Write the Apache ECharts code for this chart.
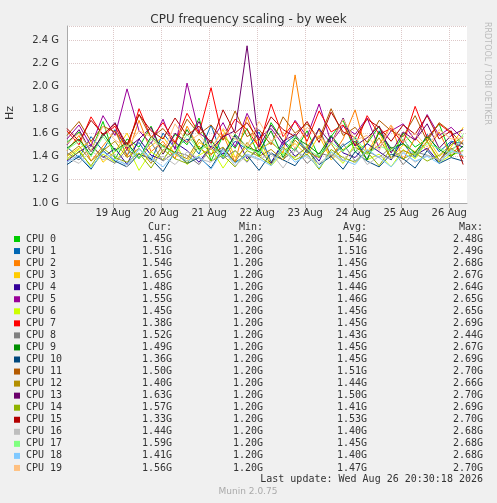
<!DOCTYPE html>
<html><head><meta charset="utf-8">
<script src="https://cdn.jsdelivr.net/npm/echarts@6/dist/echarts.min.js"></script>
<style>html,body{margin:0;padding:0;background:#F0F0F0}#c{width:497px;height:503px}</style>
</head><body><div id="c"></div>
<script>
const names=["CPU 0","CPU 1","CPU 2","CPU 3","CPU 4","CPU 5","CPU 6","CPU 7","CPU 8","CPU 9","CPU 10","CPU 11","CPU 12","CPU 13","CPU 14","CPU 15","CPU 16","CPU 17","CPU 18","CPU 19"];
const colors=["#00CC00","#0066B3","#FF8000","#FFCC00","#330099","#990099","#CCFF00","#FF0000","#808080","#008F00","#00487D","#B35A00","#B38F00","#6B006B","#8FB300","#B30000","#BEBEBE","#80FF80","#80C9FF","#FFC080"];
const cur=["1.45G","1.51G","1.54G","1.65G","1.48G","1.55G","1.45G","1.38G","1.52G","1.49G","1.36G","1.50G","1.40G","1.63G","1.57G","1.33G","1.44G","1.59G","1.41G","1.56G"];
const mins=Array(20).fill("1.20G");
const avg=["1.54G","1.51G","1.45G","1.45G","1.44G","1.46G","1.45G","1.45G","1.43G","1.45G","1.45G","1.51G","1.44G","1.50G","1.41G","1.53G","1.40G","1.45G","1.40G","1.47G"];
const maxs=["2.48G","2.49G","2.68G","2.67G","2.64G","2.65G","2.65G","2.69G","2.44G","2.67G","2.69G","2.70G","2.66G","2.70G","2.69G","2.70G","2.68G","2.68G","2.68G","2.70G"];
const dayLabels=["19 Aug","20 Aug","21 Aug","22 Aug","23 Aug","24 Aug","25 Aug","26 Aug"];
const dayPos=[0.96,1.96,2.96,3.96,4.96,5.96,6.96,7.96];
const step=0.25;
const values=[
[1.52,1.61,1.44,1.70,1.38,1.55,1.48,1.66,1.42,1.59,1.50,1.73,1.36,1.58,1.47,1.64,1.40,1.69,1.53,1.45,1.62,1.39,1.57,1.71,1.44,1.51,1.66,1.37,1.60,1.48,1.55,1.68,1.41,1.45],
[1.48,1.39,1.57,1.45,1.63,1.41,1.52,1.36,1.60,1.47,1.55,1.42,1.67,1.38,1.53,1.46,1.61,1.35,1.50,1.58,1.43,1.64,1.40,1.49,1.56,1.37,1.62,1.45,1.51,1.39,1.59,1.44,1.53,1.51],
[1.45,1.58,1.36,1.49,1.62,1.40,1.71,1.44,1.53,1.38,1.66,1.47,1.41,1.59,1.35,1.74,1.46,1.52,1.43,2.10,1.48,1.63,1.39,1.55,1.80,1.42,1.50,1.67,1.37,1.56,1.45,1.61,1.40,1.54],
[1.40,1.47,1.53,1.35,1.44,1.60,1.38,1.49,1.57,1.42,1.36,1.52,1.46,1.63,1.39,1.48,1.55,1.34,1.45,1.51,1.41,1.58,1.37,1.46,1.53,1.43,1.61,1.38,1.50,1.44,1.56,1.40,1.48,1.65],
[1.36,1.44,1.50,1.39,1.47,1.33,1.55,1.41,1.37,1.52,1.45,1.35,1.49,1.42,1.58,1.38,1.46,1.34,1.53,1.40,1.48,1.36,1.57,1.43,1.39,1.51,1.44,1.37,1.55,1.41,1.47,1.35,1.52,1.48],
[1.55,1.67,1.49,1.75,1.58,1.98,1.62,1.51,1.72,1.46,2.03,1.60,1.53,1.69,1.48,1.77,1.56,1.64,1.50,1.71,1.57,1.85,1.52,1.66,1.59,1.73,1.47,1.62,1.68,1.54,1.76,1.58,1.65,1.55],
[1.38,1.46,1.31,1.42,1.35,1.49,1.28,1.44,1.37,1.52,1.33,1.41,1.47,1.30,1.45,1.36,1.50,1.32,1.43,1.39,1.48,1.29,1.44,1.34,1.51,1.37,1.42,1.31,1.46,1.38,1.53,1.35,1.41,1.45],
[1.62,1.50,1.74,1.58,1.66,1.45,1.81,1.56,1.69,1.52,1.77,1.60,1.99,1.54,1.72,1.63,1.48,1.85,1.57,1.70,1.53,1.79,1.61,1.67,1.49,1.75,1.59,1.64,1.51,1.83,1.56,1.68,1.60,1.38],
[1.43,1.37,1.49,1.40,1.34,1.46,1.39,1.52,1.36,1.44,1.41,1.33,1.48,1.38,1.45,1.35,1.50,1.42,1.37,1.47,1.34,1.43,1.40,1.51,1.36,1.45,1.39,1.48,1.33,1.44,1.41,1.37,1.46,1.52],
[1.47,1.55,1.41,1.60,1.45,1.52,1.38,1.57,1.49,1.43,1.63,1.46,1.54,1.40,1.59,1.48,1.44,1.62,1.39,1.56,1.50,1.42,1.58,1.45,1.53,1.37,1.61,1.47,1.51,1.43,1.57,1.46,1.40,1.49],
[1.33,1.40,1.29,1.45,1.36,1.31,1.42,1.38,1.27,1.44,1.34,1.39,1.30,1.47,1.35,1.41,1.28,1.43,1.37,1.32,1.46,1.33,1.40,1.29,1.44,1.36,1.31,1.42,1.38,1.30,1.45,1.34,1.39,1.36],
[1.58,1.70,1.53,1.66,1.61,1.49,1.76,1.56,1.64,1.51,1.72,1.59,1.67,1.54,1.79,1.57,1.63,1.50,1.74,1.60,1.68,1.55,1.81,1.58,1.65,1.52,1.71,1.62,1.57,1.75,1.53,1.69,1.61,1.50],
[1.41,1.49,1.36,1.45,1.53,1.39,1.47,1.34,1.50,1.43,1.38,1.55,1.42,1.48,1.35,1.52,1.40,1.46,1.37,1.54,1.44,1.39,1.51,1.36,1.48,1.42,1.56,1.38,1.45,1.41,1.53,1.37,1.47,1.40],
[1.50,1.63,1.44,1.58,1.69,1.47,1.55,1.65,1.42,1.60,1.52,1.70,1.46,1.57,1.62,2.35,1.48,1.67,1.53,1.59,1.45,1.64,1.51,1.73,1.49,1.56,1.66,1.43,1.61,1.54,1.68,1.47,1.58,1.63],
[1.37,1.44,1.32,1.47,1.39,1.35,1.43,1.30,1.46,1.38,1.34,1.49,1.36,1.41,1.31,1.45,1.40,1.33,1.48,1.37,1.42,1.29,1.46,1.39,1.35,1.44,1.32,1.47,1.38,1.43,1.36,1.41,1.50,1.57],
[1.64,1.53,1.71,1.59,1.68,1.50,1.76,1.62,1.55,1.73,1.58,1.66,1.51,1.80,1.60,1.69,1.54,1.74,1.63,1.57,1.70,1.52,1.78,1.61,1.56,1.72,1.65,1.53,1.67,1.59,1.75,1.55,1.62,1.33],
[1.39,1.34,1.45,1.37,1.42,1.31,1.47,1.36,1.40,1.33,1.44,1.38,1.35,1.46,1.32,1.41,1.37,1.43,1.30,1.45,1.39,1.34,1.42,1.36,1.48,1.33,1.40,1.38,1.44,1.35,1.41,1.37,1.43,1.44],
[1.46,1.53,1.40,1.57,1.44,1.50,1.38,1.55,1.48,1.42,1.59,1.45,1.51,1.39,1.56,1.47,1.43,1.54,1.41,1.58,1.46,1.40,1.52,1.44,1.57,1.42,1.49,1.45,1.55,1.41,1.51,1.47,1.43,1.59],
[1.35,1.41,1.30,1.44,1.37,1.33,1.46,1.39,1.31,1.43,1.36,1.40,1.29,1.45,1.34,1.42,1.38,1.32,1.47,1.35,1.41,1.30,1.44,1.37,1.33,1.46,1.39,1.31,1.43,1.36,1.40,1.34,1.45,1.41],
[1.51,1.60,1.45,1.66,1.54,1.48,1.62,1.57,1.43,1.68,1.52,1.59,1.46,1.64,1.55,1.49,1.70,1.53,1.61,1.47,1.65,1.56,1.50,1.72,1.54,1.58,1.45,1.67,1.52,1.60,1.48,1.63,1.55,1.56]
];
const chart=echarts.init(document.getElementById('c'));
const series=values.map((v,k)=>({name:names[k],type:'line',showSymbol:false,animation:false,
  lineStyle:{width:1,color:colors[k]},itemStyle:{color:colors[k]},
  data:v.map((y,i)=>[i*step,y])}));
const g=[];
const FONT='10px "DejaVu Sans Mono"';
const rowY=k=>239+k*12.05;
[['Cur:',172],['Min:',263],['Avg:',367],['Max:',483]].forEach(([t,x])=>g.push({type:'text',x:x,y:rowY(-1),style:{text:t,fill:'#333',font:FONT,align:'right',verticalAlign:'middle'}}));
names.forEach((n,k)=>{
  const y=rowY(k);
  g.push({type:'rect',shape:{x:14,y:y-3,width:6,height:6},style:{fill:colors[k]}});
  g.push({type:'text',x:26,y:y,style:{text:n,fill:'#333',font:FONT,verticalAlign:'middle'}});
  [[cur,172],[mins,263],[avg,367],[maxs,483]].forEach(([a,x])=>g.push({type:'text',x:x,y:y,style:{text:a[k],fill:'#333',font:FONT,align:'right',verticalAlign:'middle'}}));
});
g.push({type:'text',x:483,y:479,style:{text:'Last update: Wed Aug 26 20:30:18 2026',fill:'#333',font:FONT,align:'right',verticalAlign:'middle'}});
g.push({type:'text',x:248,y:492,style:{text:'Munin 2.0.75',fill:'#aaa',font:'9px "DejaVu Sans"',align:'center',verticalAlign:'middle'}});
g.push({type:'text',x:487,y:22,rotation:-Math.PI/2,style:{text:'RRDTOOL / TOBI OETIKER',fill:'#bbb',font:'8px "DejaVu Sans"',verticalAlign:'middle'}});
g.push({type:'text',x:10,y:113,rotation:Math.PI/2,style:{text:'Hz',fill:'#333',font:'11px "DejaVu Sans"',align:'center',verticalAlign:'middle'}});
chart.setOption({
  backgroundColor:'#F0F0F0',animation:false,
  title:{text:'CPU frequency scaling - by week',left:'center',top:9,textStyle:{fontSize:12,fontWeight:'normal',color:'#333',fontFamily:'DejaVu Sans'}},
  grid:{left:67,right:30,top:26,height:177,show:true,backgroundColor:'#fff',borderWidth:0},
  xAxis:{type:'value',min:0,max:8.33,
    axisLine:{lineStyle:{color:'#aaa'}},
    axisTick:{customValues:dayPos,lineStyle:{color:'#aaa'}},
    axisLabel:{customValues:dayPos,formatter:v=>dayLabels[dayPos.indexOf(v)]||'',color:'#333',fontSize:10,fontFamily:'DejaVu Sans',margin:5},
    splitLine:{show:true,lineStyle:{color:'#ddc8c8',type:'dotted'}}},
  yAxis:{type:'value',min:1.0,max:2.52,interval:0.2,
    axisLine:{show:true,lineStyle:{color:'#aaa'}},axisTick:{show:false},
    axisLabel:{showMaxLabel:false,formatter:v=>v.toFixed(1)+' G',color:'#333',fontSize:10,fontFamily:'DejaVu Sans'},
    splitLine:{lineStyle:{color:'#ddc8c8',type:'dotted'}}},
  graphic:g,series:series
});
</script></body></html>
